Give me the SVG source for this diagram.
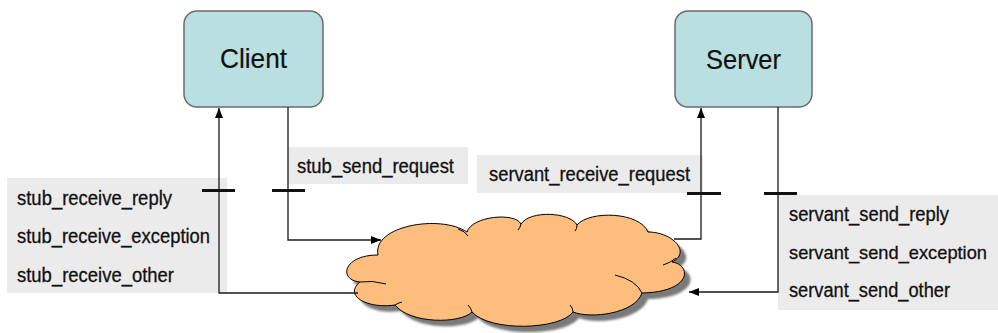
<svg xmlns="http://www.w3.org/2000/svg" width="998" height="333" viewBox="0 0 998 333">
<style>
.box{fill:#b9dfe1;stroke:#6b6b6b;stroke-width:1.5}
.lbl{fill:#ebebeb}
.t{font-family:"Liberation Sans",Arial,sans-serif;font-size:20px;fill:#111;stroke:#111;stroke-width:0.3}
.big{font-family:"Liberation Sans",Arial,sans-serif;font-size:28px;fill:#111;stroke:#111;stroke-width:0.2}
.ln{fill:none;stroke:#1a1a1a;stroke-width:1.3}
.bar{stroke:#111;stroke-width:3}
.crease{fill:none;stroke:#000;stroke-width:1}
</style>
<defs>
<marker id="ah" markerUnits="userSpaceOnUse" markerWidth="10" markerHeight="8" refX="10" refY="4" orient="auto">
<path d="M0,0 L10,4 L0,8 z" fill="#000"/>
</marker>
<path id="cloudShape" d="M378,255 C372,226 440,214 467,232 C472,216 515,212 521,224 C530,210 570,212 577,225 C590,210 640,212 648,232 C672,232 692,252 672,262 C692,265 692,292 642,293 C635,314 590,319 573,312 C560,330 490,332 472,312 C460,324 410,324 395,305 C368,309 343,296 360,282 C338,280 343,255 378,255 Z"/>
<filter id="blur" x="-10%" y="-10%" width="120%" height="130%"><feGaussianBlur stdDeviation="1"/></filter>
</defs>

<g id="labels">
<rect class="lbl" x="7" y="178" width="220" height="115"/>
<rect class="lbl" x="288" y="147" width="180" height="37"/>
<rect class="lbl" x="477" y="155" width="226" height="38"/>
<rect class="lbl" x="778" y="195" width="220" height="115"/>
<text class="t" x="17" y="205" textLength="155" lengthAdjust="spacingAndGlyphs">stub_receive_reply</text>
<text class="t" x="17" y="243" textLength="193" lengthAdjust="spacingAndGlyphs">stub_receive_exception</text>
<text class="t" x="17" y="282" textLength="157" lengthAdjust="spacingAndGlyphs">stub_receive_other</text>
<text class="t" x="297" y="173" textLength="157" lengthAdjust="spacingAndGlyphs">stub_send_request</text>
<text class="t" x="489" y="181" textLength="201" lengthAdjust="spacingAndGlyphs">servant_receive_request</text>
<text class="t" x="789" y="221" textLength="160" lengthAdjust="spacingAndGlyphs">servant_send_reply</text>
<text class="t" x="789" y="259" textLength="198" lengthAdjust="spacingAndGlyphs" style="font-size:19px">servant_send_exception</text>
<text class="t" x="789" y="297" textLength="161" lengthAdjust="spacingAndGlyphs">servant_send_other</text>
</g>

<g id="network">
<use href="#cloudShape" transform="translate(6,6)" fill="#7a7a7a" filter="url(#blur)"/>
<use href="#cloudShape" fill="#fdbd7d" stroke="#000" stroke-width="1"/>
<path class="crease" d="M360,282 Q372,280 386,284"/>
<path class="crease" d="M458,229 Q465,231 468,236"/>
<path class="crease" d="M521,224 Q520,228 518,230"/>
<path class="crease" d="M577,225 Q577,229 575,231"/>
<path class="crease" d="M676,258 Q670,263 663,265"/>
<path class="crease" d="M615,275 Q636,280 642,293"/>
<path class="crease" d="M573,312 Q573,308 570,305"/>
<path class="crease" d="M472,312 Q471,308 468,305"/>
<path class="crease" d="M395,305 Q398,303 402,302"/>
</g>

<g id="client">
<rect class="box" x="184" y="11" width="139" height="96" rx="13"/>
<text class="big" x="220" y="68" textLength="67" lengthAdjust="spacingAndGlyphs">Client</text>
</g>

<g id="server">
<rect class="box" x="675" y="11" width="137" height="96" rx="13"/>
<text class="big" x="706" y="69" textLength="75" lengthAdjust="spacingAndGlyphs">Server</text>
</g>

<g id="connectors">
<path class="ln" d="M358,293 H219 V108" marker-end="url(#ah)"/>
<path class="ln" d="M288,107 V240 H381" marker-end="url(#ah)"/>
<path class="ln" d="M674,239 H701 V108" marker-end="url(#ah)"/>
<path class="ln" d="M778,107 V292 H689" marker-end="url(#ah)"/>
<line class="bar" x1="202" y1="190.5" x2="235" y2="190.5"/>
<line class="bar" x1="272" y1="190.5" x2="305" y2="190.5"/>
<line class="bar" x1="687" y1="193.5" x2="721" y2="193.5"/>
<line class="bar" x1="764" y1="193.5" x2="797" y2="193.5"/>
</g>
</svg>
